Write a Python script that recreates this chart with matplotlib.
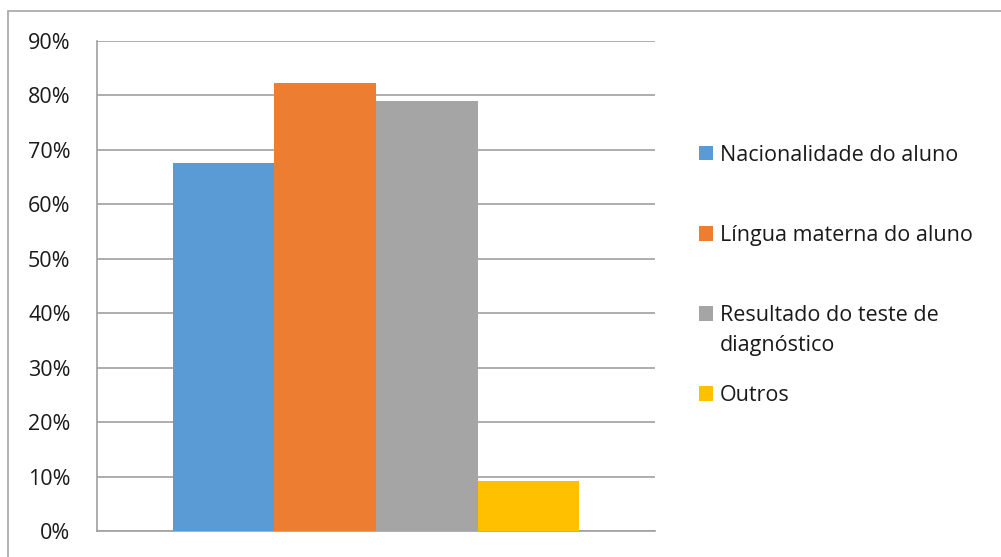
import numpy as np
import matplotlib.pyplot as plt
from matplotlib.patches import Rectangle

# ---------------------------------------------------
# Data
# ---------------------------------------------------
series = ["Nacionalidade do aluno", "Língua materna do aluno",
          "Resultado do teste de\ndiagnóstico", "Outros"]
values = [0.676, 0.823, 0.789, 0.092]
colors = ["#5B9BD5", "#ED7D31", "#A5A5A5", "#FFC000"]
yticks = [0.0, 0.1, 0.2, 0.3, 0.4, 0.5, 0.6, 0.7, 0.8, 0.9]

plt.rcParams['font.family'] = ['Open Sans', 'DejaVu Sans']

W, H = 1001, 557
fig = plt.figure(figsize=(W / 100, H / 100), dpi=100)

# outer chart border (only left/top visible in the reference)
fig.patches.append(Rectangle((8 / W, -0.01), 1.1, 1 - 11 / H + 0.01,
                             transform=fig.transFigure, fill=False,
                             edgecolor="#A6A6A6", linewidth=1.2))

# plot area in pixels: x 97..655, y 41..531
ax = fig.add_axes([97 / W, 1 - 531 / H, (655 - 97) / W, (531 - 41) / H])

bar_w = 0.1819
n = len(values)
offsets = (np.arange(n) - (n - 1) / 2) * bar_w
for off, v, c, lab in zip(offsets, values, colors, series):
    # legend shows first line next to the swatch; wrapped part added below
    ax.bar(off, v, width=bar_w, color=c, label=lab.split("\n")[0], zorder=3)

ax.set_xlim(-0.5, 0.5)
ax.set_ylim(0, 0.9)
ax.set_yticks(yticks)
ax.set_yticklabels([f"{int(round(t * 100))}%" for t in yticks])
ax.set_xticks([])
ax.tick_params(axis='y', length=0, pad=19, labelsize=15.5, labelcolor="#1a1a1a")
ax.grid(axis='y', color="#A0A0A0", linewidth=1.2, zorder=0)

for s in ["top", "right"]:
    ax.spines[s].set_visible(False)
for s in ["left", "bottom"]:
    ax.spines[s].set_color("#A0A0A0")
    ax.spines[s].set_linewidth(1.2)

leg = fig.legend(loc="upper left", bbox_to_anchor=(690 / W, 1 - 136 / H),
                 frameon=False, fontsize=15.5, handlelength=0.68,
                 handleheight=0.68, handletextpad=0.3, labelspacing=2.75,
                 borderaxespad=0, borderpad=0.4)
for t in leg.get_texts():
    t.set_color("#1a1a1a")

# wrapped second line of the third legend label
fig.text(720 / W, 1 - 345 / H, series[2].split("\n")[1], fontsize=15.5,
         color="#1a1a1a", ha="left", va="center")

plt.savefig("out.png", dpi=100)
